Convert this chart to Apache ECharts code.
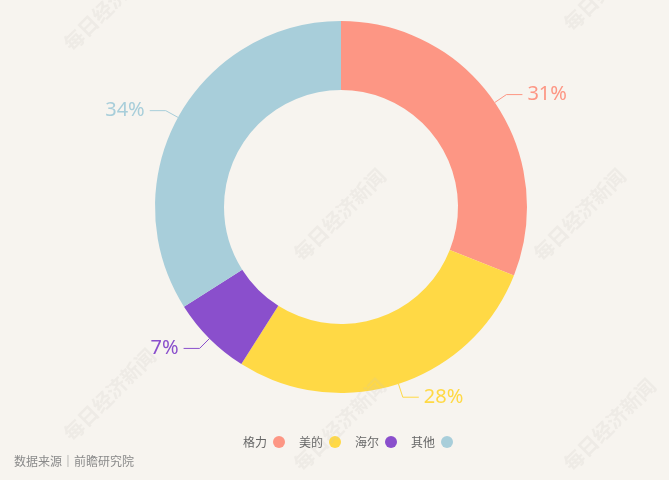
<!DOCTYPE html>
<html><head><meta charset="utf-8">
<script src="https://cdn.jsdelivr.net/npm/echarts@6/dist/echarts.min.js"></script>
<style>html,body{margin:0;padding:0;background:#f7f4ef;}#c{width:669px;height:480px;}</style>
</head><body><div id="c"></div>
<script>
const categories = ['格力', '美的', '海尔', '其他'];
const values = [31, 28, 7, 34];
const colors = ['#fd9684', '#ffd945', '#8a4fcc', '#a8ceda'];
const sourceText = '数据来源｜前瞻研究院';
const watermark = '每日经济新闻';

const chart = echarts.init(document.getElementById('c'));
const wm = [[60, 40], [290, 250], [530, 250], [60, 430], [560, 20], [290, 460], [560, 460]];
chart.setOption({
  backgroundColor: '#f7f4ef',
  animation: false,
  graphic: wm.map(p => ({
    type: 'text', x: p[0], y: p[1], rotation: Math.PI / 4, z: 100,
    style: { text: watermark, fill: 'rgba(200,195,190,0.18)', font: 'bold 20px "Noto Sans CJK SC"' }
  })).concat([{
    type: 'text', left: 14, top: 455,
    style: { text: sourceText, fill: '#8a8a8a', font: '12px "Noto Sans CJK SC"' }
  }]),
  legend: {
    top: 431, left: 238, align: 'right',
    icon: 'circle', itemWidth: 12, itemHeight: 12, itemGap: 14,
    textStyle: { color: '#666', fontSize: 12, fontFamily: 'Noto Sans CJK SC', padding: [0, 1, 0, 0] },
    data: categories
  },
  series: [{
    type: 'pie',
    center: [341, 207],
    radius: [117, 186],
    startAngle: 90,
    clockwise: true,
    label: {
      show: true, formatter: '{d}%', fontSize: 20,
      fontFamily: 'Noto Sans', color: 'inherit'
    },
    labelLine: { show: true, length: 14, length2: 16, lineStyle: { width: 1 } },
    data: categories.map((c, i) => ({
      name: c, value: values[i],
      itemStyle: { color: colors[i] },
      label: { color: colors[i] }
    }))
  }]
});
</script></body></html>
